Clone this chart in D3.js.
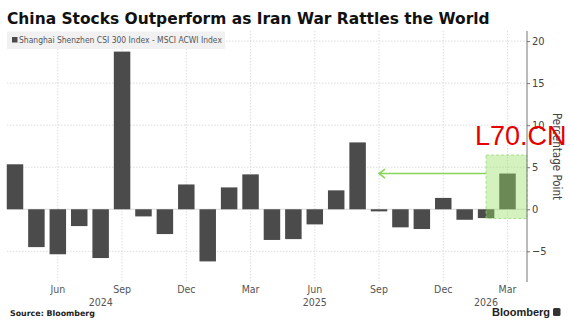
<!DOCTYPE html>
<html>
<head>
<meta charset="utf-8">
<script src="https://cdn.jsdelivr.net/npm/d3@7"></script>
<style>
  body { margin: 0; background: #fff; }
  svg { display: block; }
</style>
</head>
<body>
<div id="chart"></div>
<script>
// monthly spread: CSI 300 minus MSCI ACWI, percentage points
const months = ['2024-04','2024-05','2024-06','2024-07','2024-08','2024-09','2024-10','2024-11','2024-12',
  '2025-01','2025-02','2025-03','2025-04','2025-05','2025-06','2025-07','2025-08','2025-09','2025-10',
  '2025-11','2025-12','2026-01','2026-02','2026-03'];
const spread = [5.35, -4.5, -5.35, -2.0, -5.8, 18.75, -0.85, -2.95, 2.95, -6.2, 2.6, 4.15, -3.65, -3.55,
  -1.8, 2.25, 7.95, -0.25, -2.15, -2.35, 1.35, -1.25, -1.05, 4.25];
const yTicks = [-5, 0, 5, 10, 15, 20];
const monthTicks = ['2024-06','2024-09','2024-12','2025-03','2025-06','2025-09','2025-12','2026-03'];
const monthNames = ['Jan','Feb','Mar','Apr','May','Jun','Jul','Aug','Sep','Oct','Nov','Dec'];
const yearLabels = [['2024-08','2024'], ['2025-06','2025'], ['2026-02','2026']];
const highlight = { from: '2026-02', low: -1.1, high: 6.45 };
const arrow = { from: '2026-02', to: '2025-09', value: 4.25 };

const W = 570, H = 330;
const plotLeft = 7, axisX = 527, plotTop = 31, plotBottom = 282;

const svg = d3.select('#chart').append('svg')
  .attr('width', W).attr('height', H)
  .style('font-family', '"DejaVu Sans Condensed", "DejaVu Sans", sans-serif');

// shrink/grow a text's font size so it spans the wanted width
function fit(sel, width) {
  const fs = +sel.attr('font-size');
  const len = sel.node().getComputedTextLength();
  if (len > 0) sel.attr('font-size', fs * width / len);
  return sel;
}

const x = d3.scalePoint().domain(months).range([15, 507.5]);
const y = d3.scaleLinear().domain([-8.65, 21.2]).range([plotBottom, plotTop]);
const barW = x.step() * 0.77;

// gridlines
svg.append('g').selectAll('line').data(yTicks.filter(d => d !== 0)).join('line')
  .attr('x1', plotLeft).attr('x2', axisX)
  .attr('y1', d => y(d)).attr('y2', d => y(d))
  .attr('stroke', '#d6d6d6').attr('stroke-width', 0.8).attr('stroke-dasharray', '1.5,1.5');

svg.append('g').selectAll('line').data(monthTicks).join('line')
  .attr('x1', d => x(d)).attr('x2', d => x(d))
  .attr('y1', plotTop).attr('y2', plotBottom)
  .attr('stroke', '#d6d6d6').attr('stroke-width', 0.8).attr('stroke-dasharray', '1.5,1.5');

svg.append('line')
  .attr('x1', plotLeft).attr('x2', axisX)
  .attr('y1', y(0)).attr('y2', y(0))
  .attr('stroke', '#cfcfcf').attr('stroke-width', 0.8);

// legend
const leg = svg.append('g');
leg.append('rect').attr('x', 7).attr('y', 31.5).attr('width', 218).attr('height', 17.5).attr('fill', '#f1f1f1');
leg.append('rect').attr('x', 12).attr('y', 37).attr('width', 5.5).attr('height', 5.5).attr('fill', '#4a4a4a');
fit(leg.append('text').attr('x', 19).attr('y', 43.3)
  .attr('font-size', 9.2).attr('fill', '#555')
  .text('Shanghai Shenzhen CSI 300 Index - MSCI ACWI Index'), 203);

// bars
svg.append('g').selectAll('rect').data(months).join('rect')
  .attr('x', d => x(d) - barW / 2)
  .attr('width', barW)
  .attr('y', (d, i) => y(Math.max(0, spread[i])))
  .attr('height', (d, i) => Math.abs(y(spread[i]) - y(0)))
  .attr('fill', '#4b4b4b');

// highlight box
svg.append('rect')
  .attr('x', x(highlight.from)).attr('width', axisX - x(highlight.from))
  .attr('y', y(highlight.high)).attr('height', y(highlight.low) - y(highlight.high))
  .attr('fill', 'rgba(150,225,100,0.42)')
  .attr('stroke', '#9ad77a').attr('stroke-width', 0.8).attr('stroke-dasharray', '3,2');

// arrow
const ay = y(arrow.value), ax = x(arrow.to);
svg.append('line')
  .attr('x1', x(arrow.from)).attr('x2', ax)
  .attr('y1', ay).attr('y2', ay)
  .attr('stroke', '#86d65a').attr('stroke-width', 1.6);
svg.append('path')
  .attr('d', `M${ax + 6},${ay - 4.5}L${ax},${ay}L${ax + 6},${ay + 4.5}`)
  .attr('fill', 'none').attr('stroke', '#86d65a').attr('stroke-width', 1.6);

// y axis
const yAxis = svg.append('g')
  .attr('transform', `translate(${axisX},0)`)
  .call(d3.axisRight(y).tickValues(yTicks).tickSize(3).tickPadding(2).tickFormat(d3.format('d')));
yAxis.select('.domain').attr('d', `M0,${plotTop}V${plotBottom}`).attr('stroke', '#777');
yAxis.selectAll('.tick line').attr('stroke', '#777');
yAxis.selectAll('.tick text').attr('font-size', 11).attr('fill', '#444')
  .style('font-family', '"DejaVu Sans Condensed", sans-serif');

svg.append('text')
  .attr('transform', `translate(553,156.5) rotate(90)`)
  .attr('text-anchor', 'middle')
  .attr('font-size', 11.5).attr('fill', '#444')
  .text('Percentage Point');

// x axis labels
svg.append('g').selectAll('text').data(monthTicks).join('text')
  .attr('x', d => x(d)).attr('y', 293)
  .attr('text-anchor', 'middle').attr('font-size', 10.5).attr('fill', '#555')
  .text(d => monthNames[+d.slice(5) - 1]);

svg.append('g').selectAll('text').data(yearLabels).join('text')
  .attr('x', d => x(d[0])).attr('y', 306)
  .attr('text-anchor', 'middle').attr('font-size', 10.5).attr('fill', '#555')
  .text(d => d[1]);

// title
fit(svg.append('text').attr('x', 7).attr('y', 24.3)
  .attr('font-size', 16).attr('font-weight', 'bold').attr('fill', '#111')
  .style('font-family', '"DejaVu Sans", sans-serif')
  .text('China Stocks Outperform as Iran War Rattles the World'), 483);

// source + logo
fit(svg.append('text').attr('x', 10).attr('y', 316)
  .attr('font-size', 8.5).attr('font-weight', 'bold').attr('fill', '#222')
  .style('font-family', '"DejaVu Sans", sans-serif')
  .text('Source: Bloomberg'), 85);
svg.append('text').attr('x', 550).attr('y', 316).attr('text-anchor', 'end')
  .attr('font-size', 11).attr('font-weight', 'bold').attr('fill', '#222')
  .style('font-family', '"Liberation Sans", Arial, sans-serif')
  .text('Bloomberg');
svg.append('rect').attr('x', 553).attr('y', 308).attr('width', 7.5).attr('height', 8)
  .attr('rx', 1.5).attr('fill', '#333');

// watermark
svg.append('text').attr('x', 475).attr('y', 145)
  .attr('font-size', 27).attr('fill', '#e60000')
  .style('font-family', '"Liberation Sans", Arial, sans-serif')
  .text('L70.CN');
</script>
</body>
</html>
